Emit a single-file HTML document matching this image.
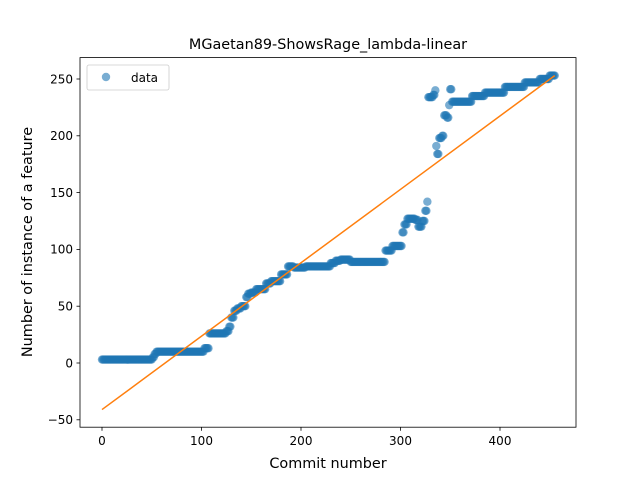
<!DOCTYPE html>
<html><head><meta charset="utf-8"><style>
body{margin:0;background:#fff;}
svg{display:block;font-family:"DejaVu Sans","Liberation Sans",sans-serif;}
</style></head><body>
<svg id="chart" width="640" height="480" viewBox="0 0 640 480">
<rect width="640" height="480" fill="#fff"/>
<text x="328" y="49" text-anchor="middle" font-size="14.4">MGaetan89-ShowsRage_lambda-linear</text>
<g id="plot"></g>
<rect x="80" y="57.6" width="496" height="369.6" fill="none" stroke="#000" stroke-width="0.8"/>
<g id="xt"></g>
<g id="yt"></g>
<text x="328" y="468" text-anchor="middle" font-size="14.4">Commit number</text>
<text transform="translate(32,242) rotate(-90)" text-anchor="middle" font-size="14.4">Number of instance of a feature</text>
<g>
<rect x="87" y="65" width="82" height="25" rx="2" fill="#fff" stroke="#ccc" stroke-width="0.8"/>
<circle cx="106" cy="77" r="4.2" fill="#1f77b4" fill-opacity="0.6"/>
<text x="131" y="82" font-size="12">data</text>
</g>
</svg>
<script>
const runStart=[0,51,53,55,103,108,125,128,130,133,136,140,145,147,150,155,165,170,180,187,193,205,230,235,240,250,255,285,292,302,304,307,315,318,322,325,327,328,333,335,336,337,339,342,344,347,349,350,352,372,385,405,425,440,450];
const runValue=[3,5,8,10,13,26,28,32,40,46,48,50,58,61,62,65,70,72,78,85,84,85,88,90,91,89,89,99,103,115,122,127,126,120,125,134,142,234,236,240,191,184,198,200,218,216,227,241,230,235,238,243,247,250,253];
const lastIndex=455;
const fitX=[0,455];
const fitY=[-41,253];
const xTicks=[0,100,200,300,400];
const yTicks=[-50,0,50,100,150,200,250];

const X=v=>102+v*0.995;
const Y=v=>363-v*1.136;
const NS='http://www.w3.org/2000/svg';
const plot=document.getElementById('plot');
for(let r=0;r<runStart.length;r++){
  const end=r+1<runStart.length?runStart[r+1]-1:lastIndex;
  for(let i=runStart[r];i<=end;i++){
    const c=document.createElementNS(NS,'circle');
    c.setAttribute('cx',X(i));c.setAttribute('cy',Y(runValue[r]));c.setAttribute('r',4.2);
    c.setAttribute('fill','#1f77b4');c.setAttribute('fill-opacity','0.6');
    
    
    plot.appendChild(c);
  }
}
const ln=document.createElementNS(NS,'line');
ln.setAttribute('x1',X(fitX[0]));ln.setAttribute('y1',Y(fitY[0]));
ln.setAttribute('x2',X(fitX[1]));ln.setAttribute('y2',Y(fitY[1]));
ln.setAttribute('stroke','#ff7f0e');ln.setAttribute('stroke-width','1.5');


plot.appendChild(ln);
const xt=document.getElementById('xt');
xTicks.forEach(t=>{
  const l=document.createElementNS(NS,'line');
  l.setAttribute('x1',X(t));l.setAttribute('x2',X(t));l.setAttribute('y1',427.2);l.setAttribute('y2',430.7);
  l.setAttribute('stroke','#000');l.setAttribute('stroke-width','0.8');
  
  
  xt.appendChild(l);
  const s=document.createElementNS(NS,'text');
  s.setAttribute('x',X(t));s.setAttribute('y',445);s.setAttribute('text-anchor','middle');s.setAttribute('font-size','12');
  s.textContent=t;
  
  
  xt.appendChild(s);
});
const yt=document.getElementById('yt');
yTicks.forEach(t=>{
  const l=document.createElementNS(NS,'line');
  l.setAttribute('x1',76.5);l.setAttribute('x2',80);l.setAttribute('y1',Y(t));l.setAttribute('y2',Y(t));
  l.setAttribute('stroke','#000');l.setAttribute('stroke-width','0.8');
  
  
  yt.appendChild(l);
  const s=document.createElementNS(NS,'text');
  s.setAttribute('x',73);s.setAttribute('y',Y(t)+4.3);s.setAttribute('text-anchor','end');s.setAttribute('font-size','12');
  s.textContent=t<0?'\u2212'+Math.abs(t):t;
  
  
  yt.appendChild(s);
});
</script>
</body></html>
